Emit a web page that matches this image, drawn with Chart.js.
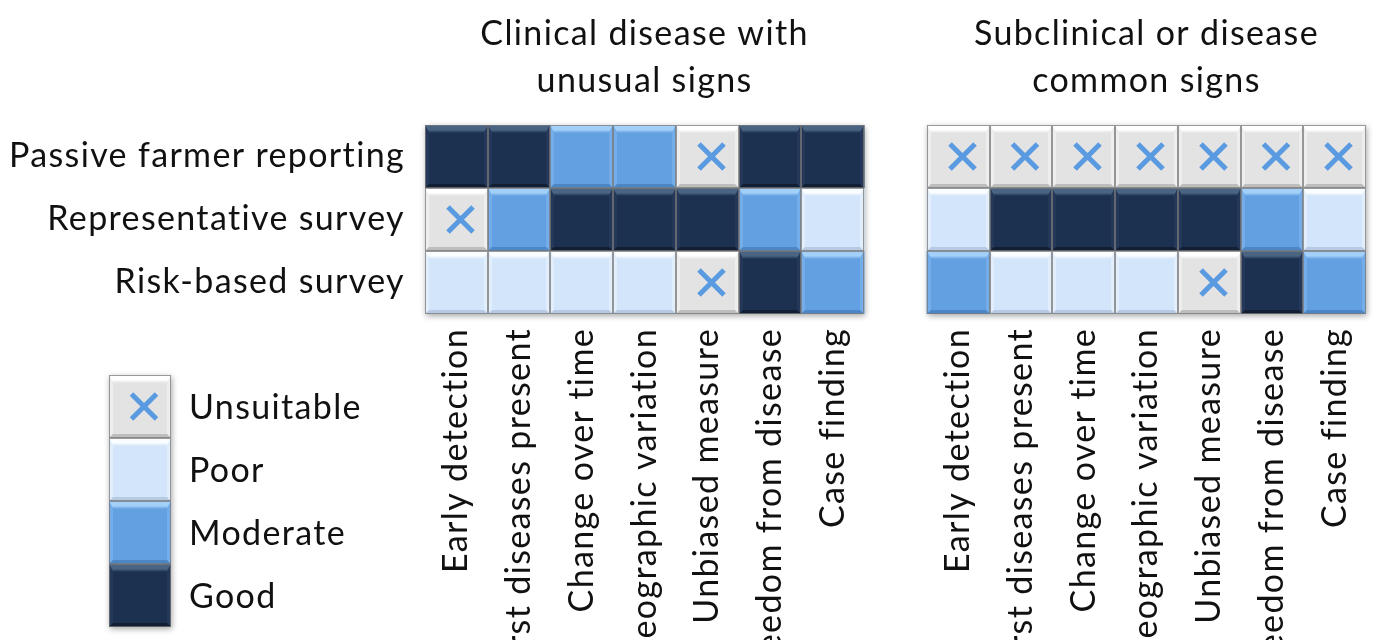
<!DOCTYPE html>
<html>
<head>
<meta charset="utf-8">
<script src="https://cdn.jsdelivr.net/npm/chart.js@4.4.1/dist/chart.umd.min.js"></script>
<style>
  html, body { margin: 0; padding: 0; background: #ffffff; }
  #wrap { width: 1373px; height: 640px; overflow: hidden; }
</style>
</head>
<body>
<div id="wrap"><canvas id="grid" width="1373" height="640"></canvas></div>
<script>
// Purposes of surveillance (columns) and methods (rows)
const criteria = ['Early detection', 'First diseases present', 'Change over time', 'Geographic variation', 'Unbiased measure', 'Freedom from disease', 'Case finding'];
const methods = ['Passive farmer reporting', 'Representative survey', 'Risk-based survey'];
const groupTitles = [['Clinical disease with', 'unusual signs'], ['Subclinical or disease', 'common signs']];
const levels = ['Unsuitable', 'Poor', 'Moderate', 'Good'];

// Suitability ratings, clinical disease with unusual signs
const clinicalPassive = ['Good', 'Good', 'Moderate', 'Moderate', 'Unsuitable', 'Good', 'Good'];
const clinicalRepresentative = ['Unsuitable', 'Moderate', 'Good', 'Good', 'Good', 'Moderate', 'Poor'];
const clinicalRiskBased = ['Poor', 'Poor', 'Poor', 'Poor', 'Unsuitable', 'Good', 'Moderate'];

// Suitability ratings, subclinical disease or disease with common signs
const subclinicalPassive = ['Unsuitable', 'Unsuitable', 'Unsuitable', 'Unsuitable', 'Unsuitable', 'Unsuitable', 'Unsuitable'];
const subclinicalRepresentative = ['Poor', 'Good', 'Good', 'Good', 'Good', 'Moderate', 'Poor'];
const subclinicalRiskBased = ['Moderate', 'Poor', 'Poor', 'Poor', 'Unsuitable', 'Good', 'Moderate'];

const clinicalRows = [clinicalPassive, clinicalRepresentative, clinicalRiskBased];
const subclinicalRows = [subclinicalPassive, subclinicalRepresentative, subclinicalRiskBased];

// Both panels share one category axis with an empty column between them
const xLabels = [...criteria, '', ...criteria];
const rowRatings = methods.map((m, i) => [...clinicalRows[i], null, ...subclinicalRows[i]]);

// Cell styling per rating
const fillColor = { Unsuitable: '#e3e3e3', Poor: '#d3e5fa', Moderate: '#63a0e1', Good: '#1c3050' };
const topColor = { Unsuitable: '#ffffff', Poor: '#fafdff', Moderate: '#a3d0f8', Good: '#4a6584' };
const sideColor = { Unsuitable: '#eeeeee', Poor: '#e2eefc', Moderate: '#74ade9', Good: '#25385a' };
const bottomColor = { Unsuitable: '#bdbdbd', Poor: '#b6cbe3', Moderate: '#4c86c6', Good: '#111e33' };
const crossColor = '#5a9ae0';
const fontFamily = 'Lato, "Open Sans", sans-serif';
const fontSize = 34;
const textSpacing = '1.35px';

function drawCell(ctx, x, y, w, h, level) {
  const t = 8, s = 4, b = 4;
  ctx.save();
  ctx.fillStyle = fillColor[level];
  ctx.fillRect(x, y, w, h);
  // top bevel
  const g = ctx.createLinearGradient(0, y, 0, y + t);
  g.addColorStop(0, topColor[level]);
  g.addColorStop(0.6, topColor[level]);
  g.addColorStop(1, fillColor[level]);
  ctx.fillStyle = g;
  ctx.beginPath();
  ctx.moveTo(x, y); ctx.lineTo(x + w, y); ctx.lineTo(x + w - s, y + t); ctx.lineTo(x + s, y + t);
  ctx.closePath(); ctx.fill();
  // side bevels
  ctx.fillStyle = sideColor[level];
  ctx.beginPath();
  ctx.moveTo(x, y); ctx.lineTo(x + s, y + t); ctx.lineTo(x + s, y + h - b); ctx.lineTo(x, y + h);
  ctx.closePath(); ctx.fill();
  ctx.beginPath();
  ctx.moveTo(x + w, y); ctx.lineTo(x + w - s, y + t); ctx.lineTo(x + w - s, y + h - b); ctx.lineTo(x + w, y + h);
  ctx.closePath(); ctx.fill();
  // bottom bevel
  ctx.fillStyle = bottomColor[level];
  ctx.beginPath();
  ctx.moveTo(x, y + h); ctx.lineTo(x + w, y + h); ctx.lineTo(x + w - s, y + h - b); ctx.lineTo(x + s, y + h - b);
  ctx.closePath(); ctx.fill();
  // outline
  ctx.strokeStyle = 'rgba(120,120,120,0.75)';
  ctx.lineWidth = 1;
  ctx.strokeRect(x + 0.5, y + 0.5, w - 1, h - 1);
  if (level === 'Unsuitable') {
    const cx = x + w / 2 + 4, cy = y + h / 2, r = 12.5;
    ctx.strokeStyle = crossColor;
    ctx.lineWidth = 5;
    ctx.lineCap = 'butt';
    ctx.beginPath();
    ctx.moveTo(cx - r, cy - r); ctx.lineTo(cx + r, cy + r);
    ctx.moveTo(cx + r, cy - r); ctx.lineTo(cx - r, cy + r);
    ctx.stroke();
  }
  ctx.restore();
}

function groupBounds(chart) {
  // bounding boxes of the two panels, from the drawn bar elements
  const boxes = [null, null];
  chart.data.datasets.forEach((ds, di) => {
    chart.getDatasetMeta(di).data.forEach((bar, i) => {
      if (ds.data[i] == null) return;
      const p = bar.getProps(['x', 'y', 'base', 'width'], true);
      const k = i < criteria.length ? 0 : 1;
      const l = p.x - p.width / 2, r = p.x + p.width / 2;
      const t = Math.min(p.y, p.base), btm = Math.max(p.y, p.base);
      const bx = boxes[k];
      boxes[k] = bx ? { l: Math.min(bx.l, l), r: Math.max(bx.r, r), t: Math.min(bx.t, t), b: Math.max(bx.b, btm) } : { l, r, t, b: btm };
    });
  });
  return boxes;
}

function applySpacing(chart) {
  // slightly open tracking for all text on the canvas
  if ('letterSpacing' in chart.ctx) chart.ctx.letterSpacing = textSpacing;
}

const cellPlugin = {
  id: 'cellBevel',
  beforeInit: applySpacing,
  beforeUpdate: applySpacing,
  beforeLayout: applySpacing,
  beforeDraw: applySpacing,
  beforeDatasetsDraw(chart) {
    const ctx = chart.ctx;
    groupBounds(chart).forEach(bx => {
      if (!bx) return;
      ctx.save();
      ctx.shadowColor = 'rgba(0,0,0,0.35)';
      ctx.shadowBlur = 6;
      ctx.shadowOffsetX = 1;
      ctx.shadowOffsetY = 2;
      ctx.fillStyle = '#cccccc';
      ctx.fillRect(bx.l, bx.t, bx.r - bx.l, bx.b - bx.t);
      ctx.restore();
    });
  },
  afterDatasetsDraw(chart) {
    const ctx = chart.ctx;
    chart.data.datasets.forEach((ds, di) => {
      chart.getDatasetMeta(di).data.forEach((bar, i) => {
        const level = ds.ratings[i];
        if (!level) return;
        const p = bar.getProps(['x', 'y', 'base', 'width'], true);
        const x = Math.round(p.x - p.width / 2), w = Math.round(p.x + p.width / 2) - x;
        const y = Math.round(Math.min(p.y, p.base)), h = Math.round(Math.max(p.y, p.base)) - y;
        drawCell(ctx, x, y, w, h, level);
      });
    });
  },
  afterDraw(chart) {
    const ctx = chart.ctx;
    const xs = chart.scales.x;
    // panel titles
    ctx.save();
    ctx.fillStyle = '#111111';
    ctx.font = fontSize + 'px ' + fontFamily;
    ctx.textAlign = 'center';
    ctx.textBaseline = 'middle';
    groupTitles.forEach((lines, k) => {
      const cx = (xs.getPixelForValue(k * 8) + xs.getPixelForValue(k * 8 + 6)) / 2;
      lines.forEach((ln, j) => ctx.fillText(ln, cx, 34 + j * 47));
    });
    ctx.restore();
    // rating key
    const lx = 109, ly = 375, lw = 62, lh = 63;
    ctx.save();
    ctx.shadowColor = 'rgba(0,0,0,0.35)';
    ctx.shadowBlur = 6;
    ctx.shadowOffsetX = 1;
    ctx.shadowOffsetY = 2;
    ctx.fillStyle = '#cccccc';
    ctx.fillRect(lx, ly, lw, lh * levels.length);
    ctx.restore();
    levels.forEach((lv, j) => {
      drawCell(ctx, lx, ly + j * lh, lw, lh, lv);
    });
    ctx.save();
    ctx.fillStyle = '#111111';
    ctx.font = fontSize + 'px ' + fontFamily;
    ctx.textAlign = 'left';
    ctx.textBaseline = 'middle';
    levels.forEach((lv, j) => ctx.fillText(lv, 189, ly + j * lh + lh / 2 + 2));
    ctx.restore();
  }
};

new Chart(document.getElementById('grid'), {
  type: 'bar',
  data: {
    labels: xLabels,
    datasets: rowRatings.map((ratings, r) => ({
      label: methods[r],
      ratings: ratings,
      data: ratings.map(v => (v ? [r, r + 1] : null)),
      backgroundColor: ratings.map(v => (v ? fillColor[v] : 'rgba(0,0,0,0)')),
      borderWidth: 0,
      grouped: false,
      categoryPercentage: 1,
      barPercentage: 1
    }))
  },
  options: {
    responsive: false,
    animation: false,
    events: [],
    layout: { padding: { top: 125, right: 7, left: 0, bottom: 0 } },
    plugins: { legend: { display: false }, tooltip: { enabled: false }, title: { display: false } },
    scales: {
      x: {
        type: 'category',
        grid: { display: false, drawTicks: false },
        border: { display: false },
        afterFit(scale) { scale.height = 326; scale.paddingLeft = 0; scale.paddingRight = 0; },
        ticks: {
          autoSkip: false,
          minRotation: 90,
          maxRotation: 90,
          padding: 14,
          color: '#111111',
          font: { family: fontFamily, size: fontSize }
        }
      },
      y: {
        type: 'linear',
        min: 0,
        max: 3,
        reverse: true,
        grid: { display: false, drawTicks: false },
        border: { display: false },
        afterFit(scale) { scale.width = 425; scale.paddingTop = 0; scale.paddingBottom = 0; },
        afterBuildTicks(scale) { scale.ticks = methods.map((m, i) => ({ value: i + 0.5 })); },
        ticks: {
          padding: 20,
          color: '#111111',
          font: { family: fontFamily, size: fontSize },
          callback: (v, i) => methods[i]
        }
      }
    }
  },
  plugins: [cellPlugin]
});
</script>
</body>
</html>
